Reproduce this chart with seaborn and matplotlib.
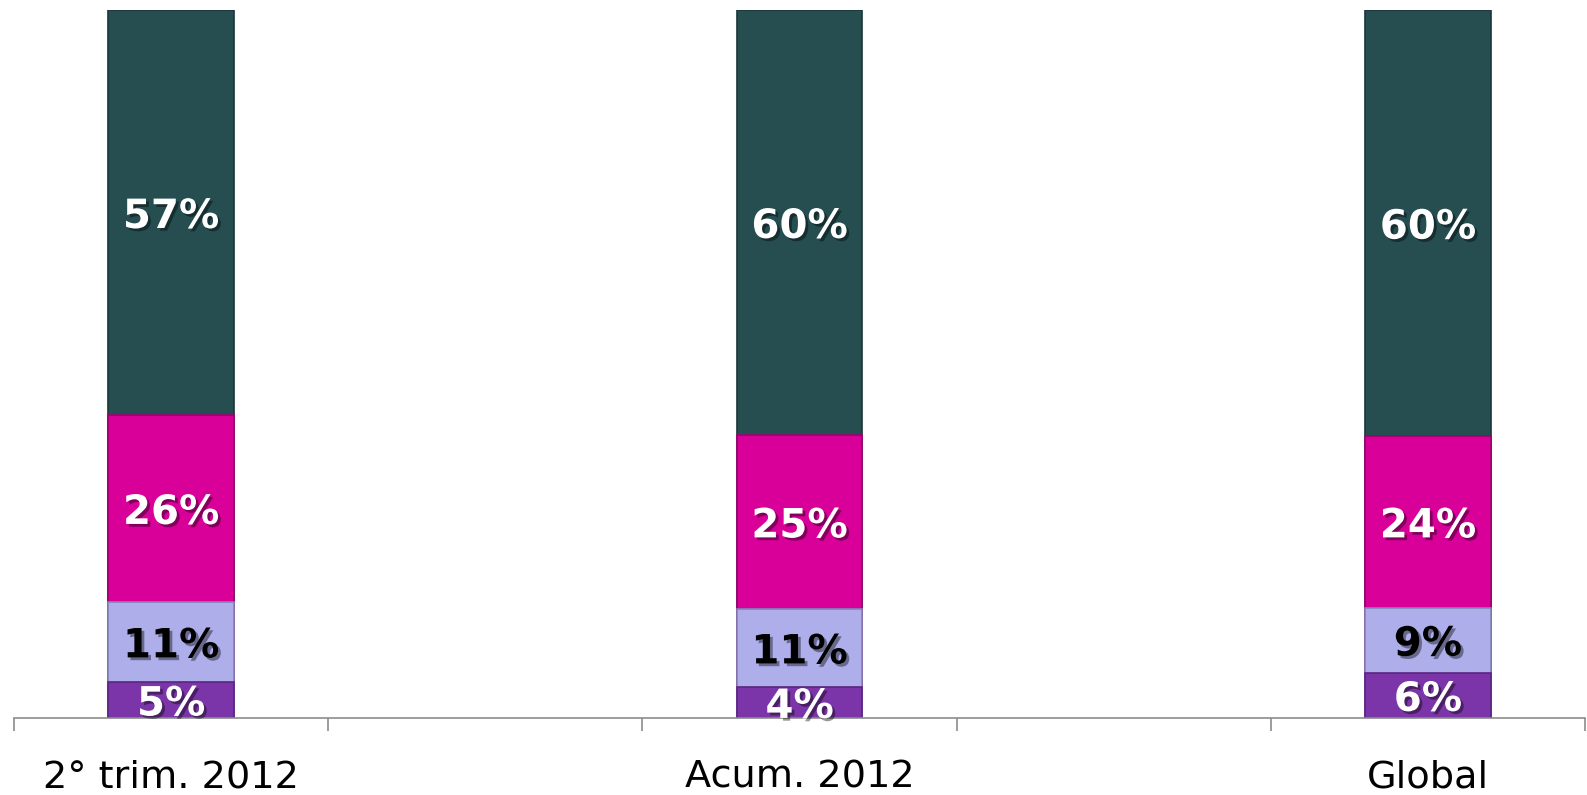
import numpy as np
import pandas as pd
import seaborn as sns
import matplotlib.pyplot as plt
import matplotlib.patheffects as pe

sns.set_style('white')
plt.rcParams['font.family'] = ['DejaVu Sans']

# categories (with two empty slots between the bars)
categories = ['2° trim. 2012', 'Acum. 2012', 'Global']
order = ['2° trim. 2012', '_gap1', 'Acum. 2012', '_gap2', 'Global']

# segment shares (%), bottom to top
seg_purple = [5.1, 4.4, 6.4]
seg_lavender = [11.3, 11.0, 9.2]
seg_magenta = [26.4, 24.6, 24.2]
seg_dark = [57.2, 60.0, 60.2]

segments = [seg_purple, seg_lavender, seg_magenta, seg_dark]
colors = ['#7B35A8', '#ADAEEA', '#D9009A', '#264E51']
edges = ['#5A2580', '#8384B8', '#A00072', '#1A3638']
text_colors = ['white', 'black', 'white', 'white']

df = pd.DataFrame({'cat': categories})
cum = np.cumsum(np.array(segments), axis=0)

fig = plt.figure(figsize=(15.87, 7.95), dpi=100)
ax = fig.add_axes([14 / 1587, 77 / 795, 1571 / 1587, 708 / 795])

# draw cumulative totals from the top segment down so they stack
for i in range(len(segments) - 1, -1, -1):
    df['v'] = cum[i]
    sns.barplot(data=df, x='cat', y='v', order=order, color=colors[i],
                saturation=1, width=0.4, edgecolor=edges[i], linewidth=1.2,
                ax=ax)

shadow = [pe.withSimplePatchShadow(offset=(2, -2), shadow_rgbFace='black', alpha=0.4)]
for i, seg in enumerate(segments):
    for j, cat in enumerate(categories):
        xpos = order.index(cat)
        ypos = cum[i][j] - seg[j] / 2
        ax.text(xpos, ypos, f'{round(seg[j])}%', ha='center', va='center_baseline',
                fontsize=29, fontweight='bold', color=text_colors[i],
                path_effects=shadow)

ax.set_ylim(0, 100)
ax.set_xlim(-0.5, 4.5)
ax.set_xlabel('')
ax.set_ylabel('')
ax.set_yticks([])

ax.set_xticks(np.arange(-0.5, 5, 1))
ax.set_xticklabels([])
ax.set_xticks([order.index(c) for c in categories], minor=True)
ax.set_xticklabels(categories, minor=True, fontsize=27.5, color='black')
ax.tick_params(axis='x', which='major', length=9, width=1.2, color='#8C8C8C',
               direction='out', bottom=True)
ax.tick_params(axis='x', which='minor', length=0, pad=30)

for s in ['top', 'right', 'left']:
    ax.spines[s].set_visible(False)
ax.spines['bottom'].set_color('#8C8C8C')
ax.spines['bottom'].set_linewidth(1.2)

fig.savefig('out.png', dpi=100)
